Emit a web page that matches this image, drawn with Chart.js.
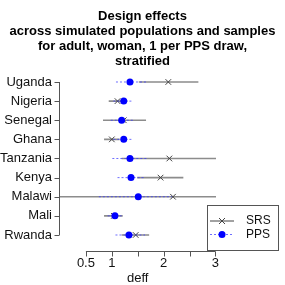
<!DOCTYPE html>
<html>
<head>
<meta charset="utf-8">
<script src="https://cdn.jsdelivr.net/npm/chart.js@4"></script>
<style>
  html, body { margin: 0; padding: 0; background: #fff; }
  #wrap { width: 285px; height: 285px; }
</style>
</head>
<body>
<div id="wrap"><canvas id="deffChart" width="285" height="285"></canvas></div>
<script>
const countries = ["Uganda", "Nigeria", "Senegal", "Ghana", "Tanzania", "Kenya", "Malawi", "Mali", "Rwanda"];
const srsEst = [2.09, 1.11, 1.23, 1.00, 2.11, 1.94, 2.18, 1.04, 1.46];
const srsLow = [1.52, 0.94, 0.83, 0.85, 1.19, 1.49, -0.30, 0.85, 1.19];
const srsHigh = [2.67, 1.30, 1.66, 1.15, 3.10, 2.38, 3.10, 1.21, 1.72];
const ppsEst = [1.35, 1.23, 1.19, 1.23, 1.35, 1.37, 1.51, 1.06, 1.33];
const ppsLow = [1.08, 1.03, 0.98, 1.03, 1.01, 1.11, 0.75, 0.92, 1.07];
const ppsHigh = [1.66, 1.40, 1.41, 1.40, 1.69, 1.64, 2.16, 1.21, 1.64];
const xTicks = [0.5, 1, 1.5, 2, 2.5, 3];
const xTickLabels = ["0.5", "1", "", "2", "", "3"];
const titleLines = ["Design effects", "across simulated populations and samples", "for adult, woman, 1 per PPS draw,", "stratified"];

const FONT = "'Liberation Sans', Arial, Helvetica, sans-serif";
const AXIS_COL = "#555";

// interval segments, separated by null gaps
function segments(low, high) {
    const out = [];
    low.forEach((lo, i) => {
        out.push({ x: lo, y: i + 1 });
        out.push({ x: high[i], y: i + 1 });
        out.push({ x: lo, y: null });
    });
    return out;
}
function points(est) {
    return est.map((v, i) => ({ x: v, y: i + 1 }));
}

// R style axes, legend and x label
const rAxes = {
    id: "rAxes",
    afterDraw(chart) {
        const ctx = chart.ctx;
        const xs = chart.scales.x, ys = chart.scales.y;
        const area = chart.chartArea;
        ctx.save();
        ctx.strokeStyle = AXIS_COL;
        ctx.lineWidth = 1;
        // y axis
        const yx = Math.round(area.left) - 0.5;
        ctx.beginPath();
        ctx.moveTo(yx, ys.getPixelForValue(1));
        ctx.lineTo(yx, ys.getPixelForValue(countries.length));
        countries.forEach((c, i) => {
            const py = Math.round(ys.getPixelForValue(i + 1)) + 0.5;
            ctx.moveTo(yx - 5, py);
            ctx.lineTo(yx, py);
        });
        // x axis
        const xy = Math.round(area.bottom) + 0.5;
        ctx.moveTo(xs.getPixelForValue(xTicks[0]), xy);
        ctx.lineTo(xs.getPixelForValue(xTicks[xTicks.length - 1]), xy);
        xTicks.forEach(t => {
            const px = Math.round(xs.getPixelForValue(t)) + 0.5;
            ctx.moveTo(px, xy);
            ctx.lineTo(px, xy + 5);
        });
        ctx.stroke();

        // x label
        ctx.fillStyle = "#111";
        ctx.font = "13px " + FONT;
        ctx.textAlign = "center";
        ctx.textBaseline = "alphabetic";
        ctx.fillText("deff", xs.getPixelForValue(1.5), 282);

        // legend
        const lx = 207.5, ly = 205.5, lw = 71, lh = 45;
        ctx.strokeStyle = AXIS_COL;
        ctx.strokeRect(lx, ly, lw, lh);
        const r1 = 221, r2 = 234.5;
        ctx.strokeStyle = "#444";
        ctx.beginPath();
        ctx.moveTo(210, r1); ctx.lineTo(234, r1);
        ctx.moveTo(219, r1 - 3); ctx.lineTo(225, r1 + 3);
        ctx.moveTo(219, r1 + 3); ctx.lineTo(225, r1 - 3);
        ctx.stroke();
        ctx.strokeStyle = "rgba(60,60,255,0.75)";
        ctx.setLineDash([2, 2]);
        ctx.beginPath();
        ctx.moveTo(210, r2); ctx.lineTo(234, r2);
        ctx.stroke();
        ctx.setLineDash([]);
        ctx.fillStyle = "#0000ff";
        ctx.beginPath();
        ctx.arc(222, r2, 3.5, 0, Math.PI * 2);
        ctx.fill();
        ctx.fillStyle = "#111";
        ctx.font = "12px " + FONT;
        ctx.textAlign = "left";
        ctx.textBaseline = "middle";
        ctx.fillText("SRS", 246, r1);
        ctx.fillText("PPS", 246, r2);
        ctx.restore();
    }
};

new Chart(document.getElementById("deffChart"), {
    type: "scatter",
    data: {
        datasets: [
            {
                label: "PPS",
                data: points(ppsEst),
                pointStyle: "circle",
                pointRadius: 3.5,
                backgroundColor: "#0000ff",
                borderColor: "#0000ff",
                borderWidth: 0,
                clip: 0
            },
            {
                label: "PPS interval",
                type: "line",
                data: segments(ppsLow, ppsHigh),
                borderColor: "rgba(60,60,255,0.75)",
                borderWidth: 1,
                borderDash: [2, 2],
                pointRadius: 0,
                spanGaps: false,
                clip: 0
            },
            {
                label: "SRS",
                data: points(srsEst),
                pointStyle: "crossRot",
                pointRadius: 4,
                borderColor: "#444",
                borderWidth: 1,
                clip: 0
            },
            {
                label: "SRS interval",
                type: "line",
                data: segments(srsLow, srsHigh),
                borderColor: "#8c8c8c",
                borderWidth: 1.6,
                pointRadius: 0,
                spanGaps: false,
                clip: 0
            }
        ]
    },
    options: {
        responsive: false,
        animation: false,
        layout: { padding: 0 },
        plugins: {
            legend: { display: false },
            tooltip: { enabled: false },
            title: {
                display: true,
                text: titleLines,
                color: "#000",
                font: { family: FONT, size: 13, weight: "bold", lineHeight: 15 / 13 },
                padding: { top: 9, bottom: 1 }
            }
        },
        scales: {
            x: {
                type: "linear",
                min: 0,
                max: 3.01,
                grid: { display: false, drawTicks: false },
                border: { display: false },
                afterBuildTicks: s => { s.ticks = xTicks.map(v => ({ value: v })); },
                afterFit: s => { s.height = 34; },
                ticks: {
                    autoSkip: false,
                    maxRotation: 0,
                    padding: 5,
                    color: "#111",
                    font: { family: FONT, size: 13 },
                    callback: (v) => xTickLabels[xTicks.indexOf(v)]
                }
            },
            y: {
                type: "linear",
                reverse: true,
                min: 0.373,
                max: 9.837,
                grid: { display: false, drawTicks: false },
                border: { display: false },
                afterBuildTicks: s => { s.ticks = countries.map((c, i) => ({ value: i + 1 })); },
                afterFit: s => { s.width = 60; },
                ticks: {
                    autoSkip: false,
                    padding: 8,
                    color: "#111",
                    font: { family: FONT, size: 13 },
                    callback: (v) => countries[v - 1]
                }
            },
            yRight: {
                position: "right",
                display: true,
                grid: { display: false, drawTicks: false },
                border: { display: false },
                ticks: { display: false },
                afterFit: s => { s.width = 69; }
            }
        }
    },
    plugins: [rAxes]
});
</script>
</body>
</html>
